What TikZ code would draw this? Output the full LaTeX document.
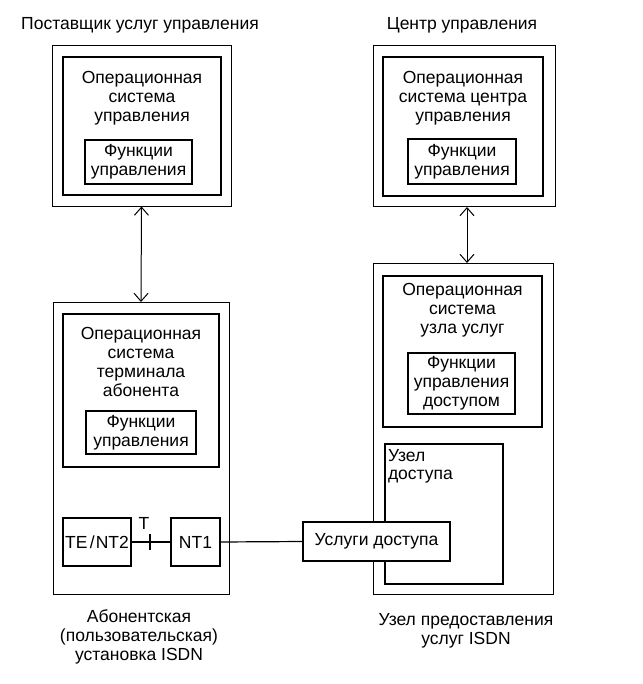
\documentclass[tikz,border=0pt]{standalone}
\usepackage{fontspec}
\setmainfont{Liberation Sans}
\usetikzlibrary{arrows.meta,calc}
\begin{document}
\begin{tikzpicture}[x=1pt,y=-1pt,
  every node/.style={inner sep=0pt,outer sep=0pt},
  txt/.style={align=center,font=\fontsize{17.5}{18.8}\selectfont},
  outerbox/.style={draw,line width=1pt},
  innerbox/.style={draw,line width=2.6pt},
  funcbox/.style={draw,line width=2pt},
  smallbox/.style={draw,line width=2pt,fill=white},
  conn/.style={line width=1.2pt},
  biarrow/.style={line width=1pt,{Straight Barb[length=8pt,width=14pt]}-{Straight Barb[length=8pt,width=14pt]}}]
\useasboundingbox (0,0) rectangle (642,684);
\fill[white] (0,0) rectangle (642,684);

% titles
\node[txt] (t1) at (140,25) {Поставщик услуг управления};
\node[txt] (t2) at (462,25) {Центр управления};

% top-left
\node[outerbox,minimum width=179pt,minimum height=161pt] (tlo) at (141.5,126) {};
\node[innerbox,minimum width=158pt,minimum height=138pt] (tli) at (142,126) {};
\node[txt] (tlt) at (142,98) {Операционная\\система\\управления};
\node[funcbox,minimum width=107pt,minimum height=44pt,txt] (tlf) at (138.5,162) {Функции\\управления};

% top-right
\node[outerbox,minimum width=182pt,minimum height=161pt] (tro) at (464,126.5) {};
\node[innerbox,minimum width=160pt,minimum height=139pt] (tri) at (463,126.5) {};
\node[txt] (trt) at (463,98) {Операционная\\система центра\\управления};
\node[funcbox,minimum width=108pt,minimum height=45pt,txt] (trf) at (462,161.5) {Функции\\управления};

% bottom-left
\node[outerbox,minimum width=176pt,minimum height=292pt] (blo) at (141,448) {};
\node[innerbox,minimum width=156pt,minimum height=153pt] (bli) at (141,390.5) {};
\node[txt] (blt) at (141,362) {Операционная\\система\\терминала\\абонента};
\node[funcbox,minimum width=110pt,minimum height=43pt,txt] (blf) at (141,432.5) {Функции\\управления};
\node[smallbox,minimum width=68pt,minimum height=48pt,txt] (te) at (97,542) {TE\hspace{2.5pt}/\hspace{1pt}NT2};
\node[smallbox,minimum width=49pt,minimum height=48pt,txt] (nt1) at (195.5,542) {NT1};

% bottom-right
\node[outerbox,minimum width=180pt,minimum height=331pt] (bro) at (463,428.5) {};
\node[innerbox,minimum width=159pt,minimum height=151pt] (bri) at (462.5,351.5) {};
\node[txt] (brt) at (462.5,310) {Операционная\\система\\узла услуг};
\node[funcbox,minimum width=107pt,minimum height=61pt,txt] (brf) at (461.5,383.5) {Функции\\управления\\доступом};
\node[funcbox,minimum width=118pt,minimum height=140pt] (uzd) at (444,514) {};
\node[txt,align=left,anchor=north west] (uzdt) at (388,449) {Узел\\доступа};

% connections
\coordinate (tick) at (150,542);
\draw[conn] (te.east) -- (nt1.west);
\draw[conn] ($(tick)+(0,-8)$) -- ($(tick)+(0,8)$);
\node[txt] (tlab) at (144,523) {T};
\node[smallbox,minimum width=147pt,minimum height=39pt,txt] (usl) at (376.5,541.5) {Услуги доступа};
\draw[conn] (nt1.east) -- (usl.west);

% arrows
\draw[biarrow] (tlo.south) -- (blo.north);
\draw[biarrow] ([xshift=3pt]tro.south) -- ([xshift=3pt]tro.south |- bro.north);

% bottom labels
\node[txt] (bll) at (139,637) {Абонентская\\(пользовательская)\\установка ISDN};
\node[txt] (brl) at (466,631) {Узел предоставления\\услуг ISDN};
\end{tikzpicture}
\end{document}
